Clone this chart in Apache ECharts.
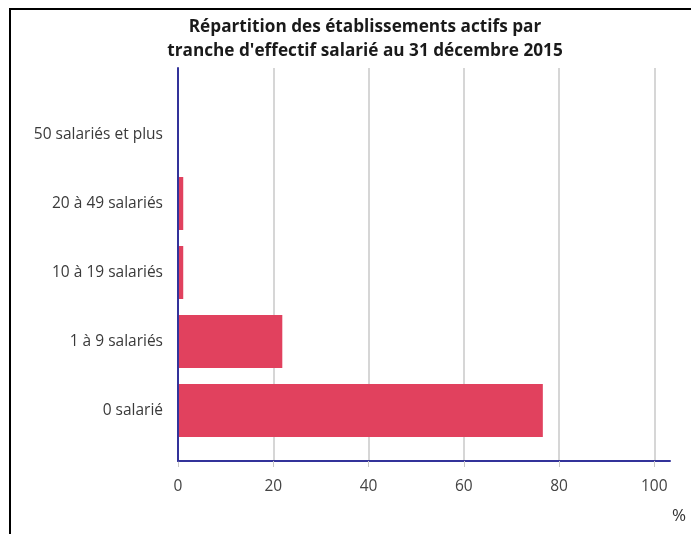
<!DOCTYPE html>
<html>
<head>
<meta charset="utf-8">
<script src="https://cdn.jsdelivr.net/npm/echarts@6/dist/echarts.min.js"></script>
<style>
  body { margin: 0; background: #fff; }
  #chart { width: 691px; height: 534px; }
  /* cadre noir en haut et à gauche */
  #cadre { position: absolute; left: 9px; top: 8px; right: 0; bottom: 0;
           border-top: 2px solid #000; border-left: 2px solid #000; pointer-events: none; }
</style>
</head>
<body>
<div id="chart"></div>
<div id="cadre"></div>
<script>
// données
const categories = ["0 salarié", "1 à 9 salariés", "10 à 19 salariés", "20 à 49 salariés", "50 salariés et plus"];
const valeurs = [76.6, 21.9, 1.1, 1.1, 0.1];
const ticksX = [0, 20, 40, 60, 80, 100];

const xMax = 103.3; // l'axe dépasse un peu 100

const chart = echarts.init(document.getElementById("chart"));

const option = {
  animation: false,
  textStyle: { fontFamily: "Open Sans" },
  title: {
    text: "Répartition des établissements actifs par\ntranche d'effectif salarié au 31 décembre 2015",
    left: 365,
    textAlign: "center",
    top: 15,
    padding: 0,
    textStyle: { fontSize: 17.2, fontWeight: "bold", color: "#1a1a1a", lineHeight: 24, fontFamily: "Open Sans" },
  },
  // grille 0 : axes et lignes de grille, grille 1 : les barres
  grid: [
    { left: 178, right: 21, top: 68, bottom: 73 },
    { left: 178, right: 21, top: 100, bottom: 89 },
  ],
  xAxis: [
    {
      gridIndex: 0,
      type: "value",
      min: 0,
      max: xMax,
      name: "%",
      nameLocation: "end",
      nameGap: 2,
      nameTextStyle: { fontSize: 17, color: "#333", verticalAlign: "top", padding: [47, 0, 0, 0] },
      axisLine: { show: true, lineStyle: { color: "#33339a", width: 2 } },
      axisTick: { show: true, length: 6, customValues: ticksX, lineStyle: { color: "#c8c8c8" } },
      axisLabel: { customValues: ticksX, fontSize: 15.5, color: "#444", margin: 18 },
      splitLine: { show: true, lineStyle: { color: "#c8c8c8", width: 1.5 } },
    },
    {
      gridIndex: 1,
      type: "value",
      min: 0,
      max: xMax,
      show: false,
    },
  ],
  yAxis: [
    {
      gridIndex: 0,
      type: "value",
      min: 0,
      max: 1,
      z: 5, // la ligne d'axe passe devant les barres
      axisLine: { show: true, lineStyle: { color: "#33339a", width: 2 } },
      axisTick: { show: false },
      axisLabel: { show: false },
      splitLine: { show: false },
    },
    {
      gridIndex: 1,
      type: "category",
      data: categories,
      axisLine: { show: false },
      axisTick: { show: false },
      axisLabel: { fontSize: 15.5, color: "#3a3a3a", margin: 15 },
    },
  ],
  series: [
    {
      type: "bar",
      xAxisIndex: 1,
      yAxisIndex: 1,
      data: valeurs,
      barWidth: 53,
      itemStyle: { color: "#e1415e" },
    },
  ],
};

chart.setOption(option);
</script>
</body>
</html>
